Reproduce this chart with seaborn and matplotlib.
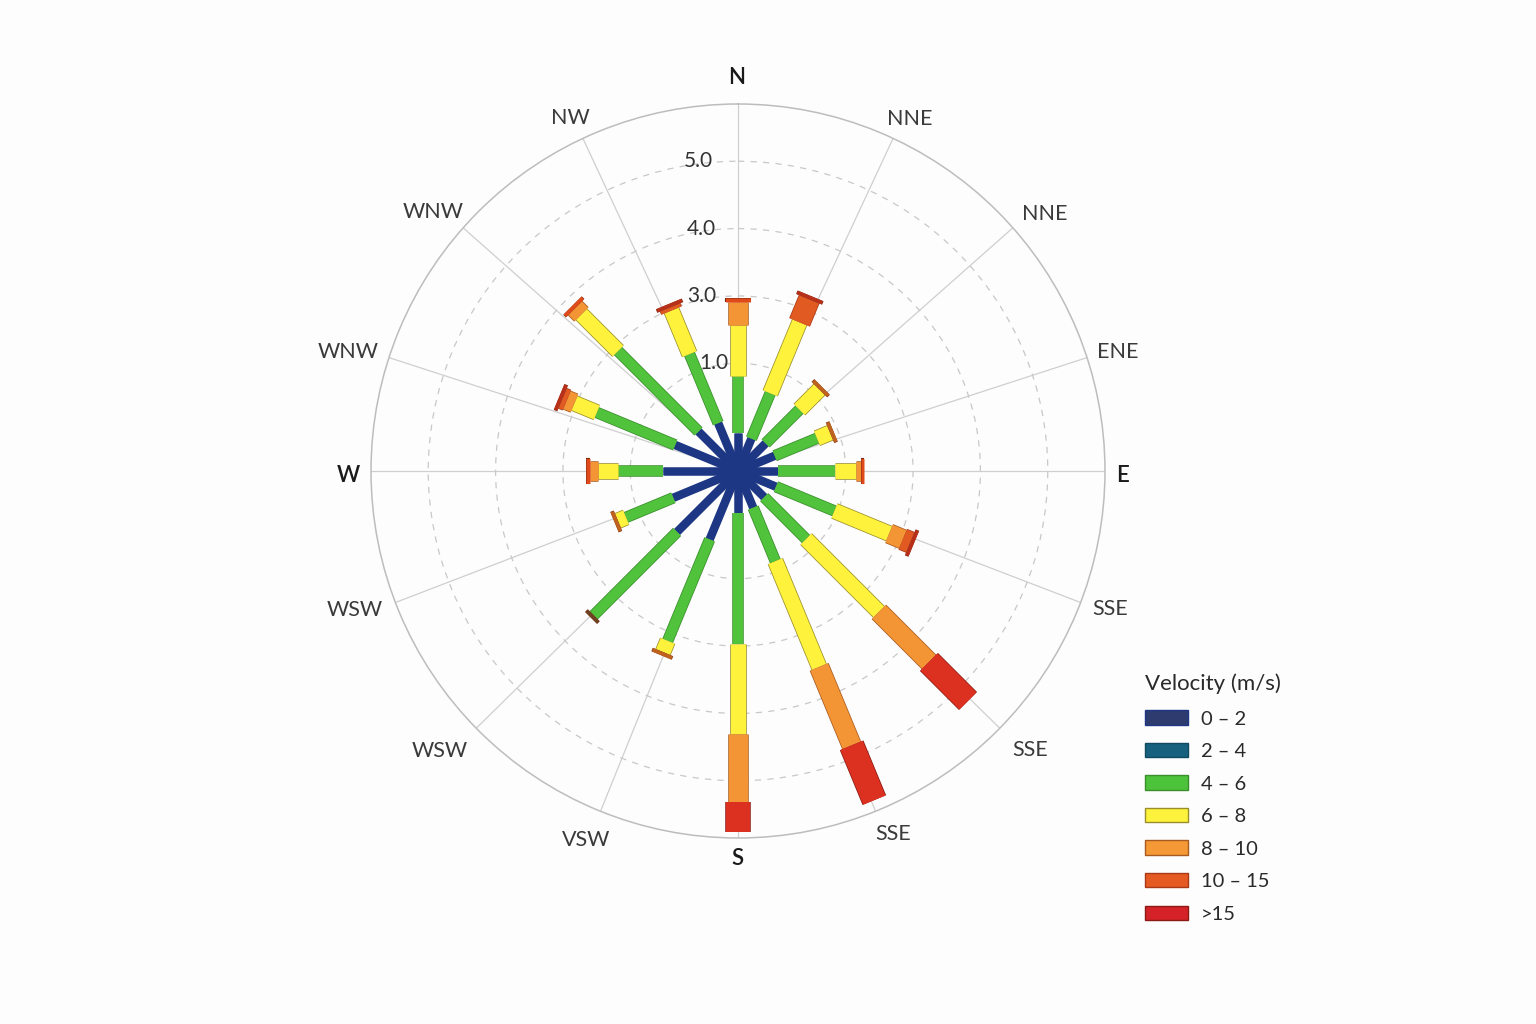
import numpy as np
import matplotlib
matplotlib.use("Agg")
import matplotlib.pyplot as plt
import matplotlib.patheffects as pe
from matplotlib.patches import Patch
import seaborn as sns

# ---------------- data ----------------
direction_deg = [0, 22.5, 45, 67.5, 90, 112.5, 135, 157.5,
                 180, 202.5, 225, 247.5, 270, 292.5, 315, 337.5]
speed_bins = ["0 – 2", "2 – 4", "4 – 6", "6 – 8", "8 – 10", "10 – 15", ">15"]

v_0_2 = [0.56, 0.52, 0.58, 0.59, 0.59, 0.61, 0.55, 0.59, 0.62, 1.10, 1.28, 1.04, 1.11, 1.01, 0.83, 0.77]
v_2_4 = [0, 0, 0, 0, 0, 0, 0, 0, 0, 0, 0, 0, 0, 0, 0, 0]
v_4_6 = [0.85, 0.73, 0.71, 0.68, 0.85, 0.94, 0.88, 0.86, 1.95, 1.63, 1.75, 0.76, 0.67, 1.26, 1.69, 1.11]
v_6_8 = [0.76, 1.14, 0.42, 0.21, 0.31, 0.88, 1.53, 1.70, 1.34, 0.18, 0, 0.13, 0.30, 0.36, 0.77, 0.70]
v_8_10 = [0.34, 0, 0, 0, 0.07, 0.22, 1.05, 1.26, 1.00, 0, 0, 0, 0.12, 0.12, 0.13, 0]
v_10_15 = [0, 0.37, 0, 0, 0, 0.12, 0, 0, 0, 0, 0, 0, 0, 0.07, 0, 0.05]
v_15_up = [0, 0, 0, 0, 0, 0, 0.82, 0.88, 0.45, 0, 0, 0, 0, 0, 0, 0]

grid_angles = [0, 25, 48.5, 72, 90, 111, 134.5, 158, 180, 202, 225.5, 249, 270, 288, 311.5, 335]
grid_labels = ["N", "NNE", "NNE", "ENE", "E", "SSE", "SSE", "SSE",
               "S", "VSW", "WSW", "WSW", "W", "WNW", "WNW", "NW"]
r_ticks = [1.6, 2.6, 3.6, 4.6]
r_tick_labels = ["1.0", "3.0", "4.0", "5.0"]

# ---------------- style / layout ----------------
sns.set_theme(style="white")
plt.rcParams["font.family"] = ["Lato", "DejaVu Sans"]

bar_colors = ["#1E3784", "#17617F", "#50C23C", "#FFF23C", "#F39534", "#E05A22", "#DC3020"]
legend_colors = ["#2E3B6E", "#17617F", "#4DC33B", "#FDF23C", "#F49935", "#E55A22", "#D42228"]
edge_colors = ["#1E3784", "#0F4A60", "#3A8E2C", "#9A8E2A", "#A85A20", "#A83A18", "#8C1A14"]
cap_colors = [None, None, "#6E4220", "#BE621E", "#E04A1A", "#B8301A", None]
width_px = [7, 8, 10, 15, 19, 21, 24]
px2pt = 0.72
rmax = 5.45                      # outer ring (367 px)
px_per_unit = 367 / rmax
label_angle_pos = [-0.15, 26.0, 50.1, 72.6, 90.7, 110.4, 133.7, 156.9,
                   180.1, 202.3, 226.8, 250.1, 269.3, 287.0, 310.3, 334.6]
label_radius_px = [394, 392, 400, 398, 385, 397, 404, 395,
                   388, 399, 409, 408, 390, 408, 400, 391]

palette = sns.color_palette(bar_colors)

fig = plt.figure(figsize=(15.36, 10.24), dpi=100)
fig.patch.set_facecolor("#FDFDFD")
ax = fig.add_axes([0.24154, 0.18164, 0.47786, 0.71680], projection="polar")
ax.set_facecolor("#FDFDFD")
ax.set_theta_zero_location("N")
ax.set_theta_direction(-1)
ax.set_ylim(0, rmax)

ax.set_thetagrids(grid_angles, [""] * len(grid_angles))
ax.set_yticks(r_ticks)
ax.set_yticklabels([])
ax.xaxis.grid(True, color="#CFCFCF", lw=0.9, ls="-")
ax.yaxis.grid(True, color="#C8C8C8", lw=0.9, ls=(0, (5, 5)))
ax.spines["polar"].set_color("#BDBDBD")
ax.spines["polar"].set_linewidth(1.1)
ax.tick_params(axis="x", size=0)

for ang, rpx, t in zip(label_angle_pos, label_radius_px, grid_labels):
    cardinal = t in ("N", "E", "S", "W")
    ax.text(np.deg2rad(ang), rpx / px_per_unit, t,
            ha="center", va="center", clip_on=False,
            fontsize=16 if cardinal else 15.5,
            color="#1A1A1A" if cardinal else "#3A3A3A",
            fontweight="semibold" if cardinal else "normal")

rlabel_offsets_px = [10, 22, 22, 25]
for v, t, off in zip(r_ticks, r_tick_labels, rlabel_offsets_px):
    ax.annotate(t, xy=(0, v), xytext=(-off * px2pt, 0), textcoords="offset points",
                ha="right", va="center", fontsize=15, color="#333333",
                fontweight="normal", zorder=6)

# ---------------- bars ----------------
series = [v_0_2, v_2_4, v_4_6, v_6_8, v_8_10, v_10_15, v_15_up]
theta = np.deg2rad(direction_deg)
bottoms = np.zeros(len(direction_deg))
tops_idx = [-1] * len(direction_deg)
for k, vals in enumerate(series):
    for i, (th, v) in enumerate(zip(theta, vals)):
        if v <= 0:
            continue
        lw = width_px[k] * px2pt
        ax.plot([th, th], [bottoms[i], bottoms[i] + v], color=palette[k], lw=lw,
                solid_capstyle="butt", zorder=3 + k * 0.1,
                path_effects=[pe.Stroke(linewidth=lw + 1.1, foreground=edge_colors[k]),
                              pe.Normal()])
        tops_idx[i] = k
    bottoms += np.array(vals)

# end caps (flared rims)
cap_len = 0.055
for i, th in enumerate(theta):
    k = tops_idx[i]
    if cap_colors[k] is None:
        continue
    lw = (width_px[k] + 6) * px2pt
    ax.plot([th, th], [bottoms[i], bottoms[i] + cap_len], color=cap_colors[k], lw=lw,
            solid_capstyle="butt", zorder=4,
            path_effects=[pe.Stroke(linewidth=lw + 0.8, foreground="#7A2A10"), pe.Normal()])

# hub
ax.bar(0, 0.19, width=2 * np.pi, bottom=0, color=bar_colors[0], zorder=5, linewidth=0)

# ---------------- legend ----------------
handles = [Patch(facecolor=c, edgecolor=e, linewidth=1.0) for c, e in zip(legend_colors, edge_colors)]
leg = fig.legend(handles, speed_bins, title="Velocity (m/s)", loc="upper left",
                 bbox_to_anchor=(1127 / 1536, 1 - 655 / 1024), bbox_transform=fig.transFigure,
                 frameon=False, fontsize=14.5, title_fontsize=16, handlelength=2.15,
                 handleheight=0.72, labelspacing=0.76, handletextpad=0.6, alignment="left")
leg._legend_box.sep = 12
for t in leg.get_texts():
    t.set_color("#2A2A2A")
leg.get_title().set_color("#2A2A2A")

fig.savefig("out.png", dpi=100, facecolor=fig.get_facecolor())
